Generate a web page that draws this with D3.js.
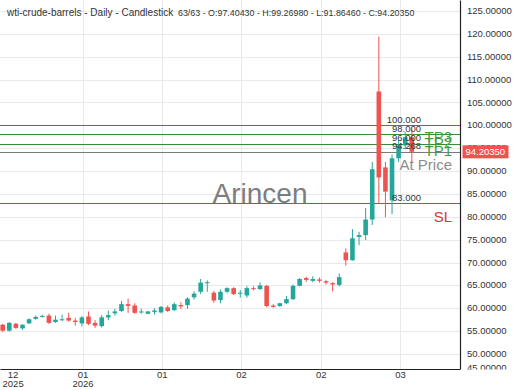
<!DOCTYPE html>
<html>
<head>
<meta charset="utf-8">
<script src="https://cdn.jsdelivr.net/npm/d3@7"></script>
<style>
  body { margin: 0; background: #fff; }
  text { font-family: "Liberation Sans", Arial, sans-serif; }
</style>
</head>
<body>
<script>
// candles, one per trading day (oldest first)
const opens  = [56.4,55.1,56.6,55.6,56.7,57.7,58.1,58.4,57.0,57.4,57.9,57.3,56.7,58.2,56.8,56.1,58.0,58.9,59.4,60.9,
                60.6,59.1,58.8,59.2,59.1,60.2,59.6,60.7,60.7,62.4,63.6,65.5,63.4,61.8,63.6,64.4,63.2,62.8,64.4,64.2,
                64.9,60.6,60.5,61.1,62.0,64.9,66.6,66.0,66.3,65.9,65.5,65.1,72.2,70.5,75.6,76.0,79.4,107.4,90.8,83.6,
                92.8,95.6,97.4043];
const highs  = [56.6,57.0,56.8,56.5,57.8,58.4,58.6,58.8,58.4,58.6,59.0,57.9,58.3,59.3,57.4,58.5,59.5,59.9,61.6,62.1,
                61.1,59.9,59.4,60.0,60.5,60.6,61.3,61.3,62.4,63.7,66.4,66.1,63.8,64.1,64.6,64.6,64.0,64.8,64.8,65.7,
                65.1,60.9,61.2,62.7,65.2,66.6,66.9,67.0,66.7,66.2,65.7,67.6,73.1,77.3,76.7,81.9,92.0,119.4,92.0,93.6,
                96.8,98.5,99.2698];
const lows   = [54.8,54.9,55.5,55.3,56.6,57.5,58.0,56.6,56.8,57.2,57.1,56.2,56.0,56.3,55.7,55.8,57.4,58.4,59.2,59.0,
                58.8,58.8,58.7,58.6,58.9,59.2,59.4,59.8,59.9,61.9,63.1,63.6,61.2,61.1,63.3,62.9,62.3,62.3,63.9,64.0,
                60.2,60.1,60.3,60.9,61.8,64.8,65.8,65.7,65.6,65.2,63.7,64.8,69.3,70.4,73.8,74.9,78.2,82.8,79.9,80.6,
                92.0,94.8,91.8646];
const closes = [55.1,56.8,55.7,56.4,57.6,58.1,58.3,56.8,57.5,57.6,57.3,57.0,58.0,56.6,56.2,58.0,58.5,59.3,60.9,60.5,
                59.0,59.3,59.3,59.5,60.3,59.4,60.9,60.4,62.1,63.2,65.6,65.7,61.7,63.6,64.4,63.1,63.4,64.4,64.2,65.0,
                60.5,60.3,61.1,62.0,64.9,66.4,66.2,66.4,66.0,65.6,65.2,66.8,70.5,75.3,76.0,79.4,90.4,88.6,85.5,92.8,
                95.6,97.4,94.2035];

// date ticks (position in candle index) and their labels
const tickIdx = [1.5, 12.1, 24.1, 36.1, 48.2, 60.2];
const tickLabels = [["12", "2025"], ["01", "2026"], ["01"], ["02"], ["02"], ["03"]];

// price ticks on the right axis
const priceTicks = d3.range(45, 126, 5);

// trade levels
const levelValues = [100, 98, 96, 94.268, 83];
const levelNames = ["TP3", "TP2", "TP1", "At Price", "SL"];

const chartTitle = "wti-crude-barrels - Daily - Candlestick";
const watermark = "Arincen";

const data = opens.map((o, i) => ({i: i, o: o, h: highs[i], l: lows[i], c: closes[i]}));
const last = data[data.length - 1];

const W = 520, H = 390;
const width = 460, height = 369;

const svg = d3.select("body").append("svg")
  .attr("width", W)
  .attr("height", H);

const x = d3.scaleLinear().domain([-0.41, 69.3]).range([0, width]);
const y = d3.scaleLinear().domain([46.72, 127.405]).range([height, 0]);

const defs = svg.append("defs");
defs.append("clipPath").attr("id", "plot")
  .append("rect").attr("width", width).attr("height", height);
// axis group is translated; its clip box is in its own coordinates
defs.append("clipPath").attr("id", "yaxclip")
  .append("rect").attr("x", -2).attr("y", -5).attr("width", 70).attr("height", height + 5.5);

const plot = svg.append("g").attr("clip-path", "url(#plot)");

// grid
plot.append("g").selectAll("line")
  .data(priceTicks)
  .join("line")
    .attr("x1", 0).attr("x2", width)
    .attr("y1", d => Math.round(y(d)) + 0.5).attr("y2", d => Math.round(y(d)) + 0.5)
    .attr("stroke", "#e9e9e9");
plot.append("g").selectAll("line")
  .data(tickIdx.slice(1))
  .join("line")
    .attr("x1", d => Math.round(x(d)) + 0.5).attr("x2", d => Math.round(x(d)) + 0.5)
    .attr("y1", 0).attr("y2", height)
    .attr("stroke", "#e9e9e9");

// watermark
plot.append("text")
  .attr("x", 260).attr("y", 203)
  .attr("text-anchor", "middle")
  .style("font-size", "28px")
  .attr("fill", "#7d7d7d")
  .text(watermark);

// level lines
const fmt3 = d3.format(".3f");
const lineColor = (n) => n.startsWith("TP") ? "#3b8a3b" : (n === "SL" ? "#b5484a" : "#7a7a7a");
const sideColor = (n) => n.startsWith("TP") ? "#3f9f3f" : (n === "SL" ? "#d8343a" : "#8c8c8c");
const sideDy = [16.5, 13.5, 12.5, 18.5, 19];

plot.append("g").selectAll("line")
  .data(levelValues)
  .join("line")
    .attr("x1", 0).attr("x2", width)
    .attr("y1", d => Math.round(y(d)) + 0.5).attr("y2", d => Math.round(y(d)) + 0.5)
    .attr("stroke", (d, i) => lineColor(levelNames[i]))
    .attr("stroke-width", 1);

// candles
const bw = 4.6;
const col = d => d.c >= d.o ? "#26a69a" : "#ef5350";
const candles = plot.append("g").selectAll("g")
  .data(data)
  .join("g");
candles.append("line")
  .attr("x1", d => x(d.i)).attr("x2", d => x(d.i))
  .attr("y1", d => y(d.h)).attr("y2", d => y(d.l))
  .attr("stroke", col)
  .attr("stroke-width", 1);
candles.append("rect")
  .attr("x", d => x(d.i) - bw / 2)
  .attr("width", bw)
  .attr("y", d => y(Math.max(d.o, d.c)))
  .attr("height", d => Math.max(1, Math.abs(y(d.o) - y(d.c))))
  .attr("fill", col);

// level value labels
plot.append("g").selectAll("text")
  .data(levelValues)
  .join("text")
    .attr("x", 421)
    .attr("y", d => y(d) - 2.5)
    .attr("text-anchor", "end")
    .style("font-size", "9.5px")
    .attr("fill", "#333")
    .text(d => fmt3(d));

// level names
plot.append("g").selectAll("text")
  .data(levelValues)
  .join("text")
    .attr("x", 452)
    .attr("y", (d, i) => y(d) + sideDy[i])
    .attr("text-anchor", "end")
    .style("font-size", "15px")
    .attr("fill", (d, i) => sideColor(levelNames[i]))
    .text((d, i) => levelNames[i]);

// right axis (lowest label is pulled up to the edge and cut there)
const yAxis = svg.append("g")
  .attr("transform", `translate(${width},0)`)
  .attr("clip-path", "url(#yaxclip)")
  .call(d3.axisRight(y).tickValues(priceTicks).tickSize(0).tickSizeOuter(0).tickPadding(7)
    .tickFormat(d3.format(".5f")));
yAxis.selectAll(".tick")
  .attr("transform", d => `translate(0,${Math.min(y(d), height - 1.5)})`);
yAxis.selectAll(".tick text")
  .style("font-size", "9.5px")
  .style("font-family", "'Liberation Sans', Arial, sans-serif")
  .attr("fill", "#333");
yAxis.select(".domain").attr("stroke", "#222").attr("stroke-width", 1.2);

// last price tag
svg.append("rect")
  .attr("x", width + 2.5).attr("y", y(last.c) - 6.5)
  .attr("width", 46).attr("height", 13)
  .attr("fill", "#ef5350");
svg.append("text")
  .attr("x", width + 5.5).attr("y", y(last.c) + 3.5)
  .style("font-size", "9.5px")
  .attr("fill", "#fff")
  .text(d3.format(".5f")(last.c));

// bottom axis
const xAxis = svg.append("g")
  .attr("transform", `translate(0,${height})`)
  .call(d3.axisBottom(x).tickValues(tickIdx).tickSize(0).tickSizeOuter(0).tickFormat(""));
xAxis.select(".domain").attr("stroke", "#222").attr("stroke-width", 1.2);
xAxis.selectAll(".tick").each(function(d, k) {
  const t = d3.select(this).append("text")
    .attr("text-anchor", "middle")
    .style("font-size", "9.5px")
    .style("font-family", "'Liberation Sans', Arial, sans-serif")
    .attr("fill", "#333");
  tickLabels[k].forEach((s, j) => {
    t.append("tspan").attr("x", 0).attr("y", 9.3 + j * 9).text(s);
  });
});

// title
const f5 = d3.format(".5f");
svg.append("text")
  .attr("x", 7).attr("y", 16)
  .style("font-size", "10px")
  .attr("fill", "#333")
  .text(chartTitle);
svg.append("text")
  .attr("x", 178).attr("y", 16)
  .style("font-size", "8.9px")
  .attr("fill", "#333")
  .text(`${data.length}/${data.length} - O:${f5(last.o)} - H:${f5(last.h)} - L:${f5(last.l)} - C:${f5(last.c)}`);
</script>
</body>
</html>
